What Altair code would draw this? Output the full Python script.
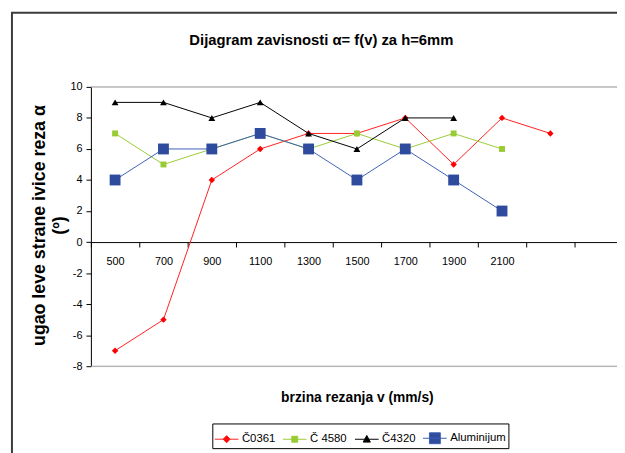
import altair as alt
import pandas as pd

cats = ["500", "700", "900", "1100", "1300", "1500", "1700", "1900", "2100", "2300", "2500"]
names = ["Č0361", "Č 4580", "Č4320", "Aluminijum"]
c0361 = [-7, -5, 4, 6, 7, 7, 8, 5, 8, 7, None]
c4580 = [7, 5, 6, 7, 6, 7, 6, 7, 6, None, None]
c4320 = [9, 9, 8, 9, 7, 6, 8, 8, None, None, None]
alu = [4, 6, 6, 7, 6, 4, 6, 4, 2, None, None]
series_vals = [c0361, c4580, c4320, alu]

line_colors = ["#FF2020", "#99CC33", "#000000", "#3D5FB5"]
mark_colors = ["#FF0000", "#99CC33", "#000000", "#2E4B9E"]
shapes = ["diamond", "square", "triangle-up", "square"]
sizes = [42, 36, 48, 121]
legend_paths = [
    "M-1,0H1M0,-0.3L0.3,0L0,0.3L-0.3,0Z",
    "M-1,0H1M-0.25,-0.25H0.25V0.25H-0.25Z",
    "M-1,0H1M0,-0.32L0.3,0.24L-0.3,0.24Z",
    "M-1,0H1M-0.46,-0.46H0.46V0.46H-0.46Z",
]

FONT = "Liberation Sans"
W, H = 533, 283
YMIN, YMAX = -8, 10

rows = []
for n, vals in zip(names, series_vals):
    for c, v in zip(cats, vals):
        if v is not None:
            rows.append({"cat": c, "series": n, "value": v})
df = pd.DataFrame(rows)

x_enc = alt.X(
    "cat:N",
    sort=cats,
    scale=alt.Scale(domain=cats, type="band", paddingInner=0, paddingOuter=0, range=[0, 539]),
    axis=alt.Axis(
        title="brzina rezanja v (mm/s)",
        titleFont=FONT, titleFontSize=14, titleFontWeight="bold", titleColor="#000",
        titleY=158, titleBaseline="middle",
        offset=-H * (-YMIN) / (YMAX - YMIN),
        tickBand="extent", tickSize=5, tickColor="#000", domainColor="#000",
        labelFont=FONT, labelFontSize=11, labelColor="#000", labelPadding=9,
        labelAngle=0, grid=False,
        labelExpr="toNumber(datum.value) > 2100 ? '' : datum.value",
    ),
)
y_enc = alt.Y(
    "value:Q",
    scale=alt.Scale(domain=[YMIN, YMAX], nice=False, zero=False),
    axis=alt.Axis(
        title=["ugao leve strane ivice reza α", "(º)"],
        titleFont=FONT, titleFontSize=18, titleFontWeight="bold", titleColor="#000",
        titleX=-52, titleY=140, titleBaseline="middle", titleAlign="center",
        titleLineHeight=20, titleAngle=-90,
        values=list(range(-8, 11, 2)), tickSize=5, tickColor="#000", domainColor="#000",
        labelFont=FONT, labelFontSize=11, labelColor="#000", labelPadding=4, grid=False,
        labelExpr="datum.value + ''",
    ),
)

layers = []
# plot area top/bottom border lines
border = pd.DataFrame({"value": [YMIN, YMAX]})
layers.append(
    alt.Chart(border).mark_rule(color="#A0A0A0", strokeWidth=1).encode(y=y_enc)
)
# outer chart frame (left and top)
layers.append(
    alt.Chart(pd.DataFrame({"a": [0]})).mark_rule(color="#3A3A3A", strokeWidth=2).encode(
        x=alt.value(-80), y=alt.value(-75), y2=alt.value(400)
    )
)
layers.append(
    alt.Chart(pd.DataFrame({"a": [0]})).mark_rule(color="#3A3A3A", strokeWidth=2).encode(
        x=alt.value(-81), x2=alt.value(700), y=alt.value(-75)
    )
)

for n, lc, mc, sh, sz in zip(names, line_colors, mark_colors, shapes, sizes):
    sub = df[df["series"] == n]
    base = alt.Chart(sub).encode(x=x_enc, y=y_enc)
    layers.append(base.mark_line(color=lc, strokeWidth=1))
    layers.append(base.mark_point(shape=sh, size=sz, filled=True, color=mc, opacity=1, strokeWidth=0))

# legend carrier (points placed outside the plot and clipped)
leg_df = pd.DataFrame({"series": names, "cat": [cats[0]] * 4, "value": [-100] * 4})
leg = alt.Legend(
    title=None, orient="none", legendX=123, legendY=341, direction="horizontal",
    strokeColor="#000", fillColor="#FFFFFF", padding=2,
    symbolSize=576, symbolStrokeWidth=1, labelOffset=3, columnPadding=5,
    labelFont=FONT, labelFontSize=11.5, labelColor="#000", columns=4,
)
layers.append(
    alt.Chart(leg_df).mark_point(opacity=1, clip=True, strokeWidth=1).encode(
        x=x_enc, y=y_enc,
        shape=alt.Shape("series:N", scale=alt.Scale(domain=names, range=legend_paths), legend=leg),
        fill=alt.Fill("series:N", scale=alt.Scale(domain=names, range=mark_colors), legend=leg),
        stroke=alt.Stroke("series:N", scale=alt.Scale(domain=names, range=line_colors), legend=leg),
    )
)

chart = alt.layer(*layers).properties(
    width=W, height=H,
    autosize=alt.AutoSizeParams(type="none"),
    padding={"left": 84, "top": 77, "right": 0, "bottom": 85},
    title=alt.TitleParams(
        "Dijagram zavisnosti  α= f(v) za h=6mm",
        font=FONT, fontSize=15, fontWeight="bold", color="#000",
        anchor="middle", dx=-33, offset=-37,
    ),
).configure_view(stroke=None).configure(background="white")

chart.save("out.html", embed_options={"renderer": "svg", "actions": False})
